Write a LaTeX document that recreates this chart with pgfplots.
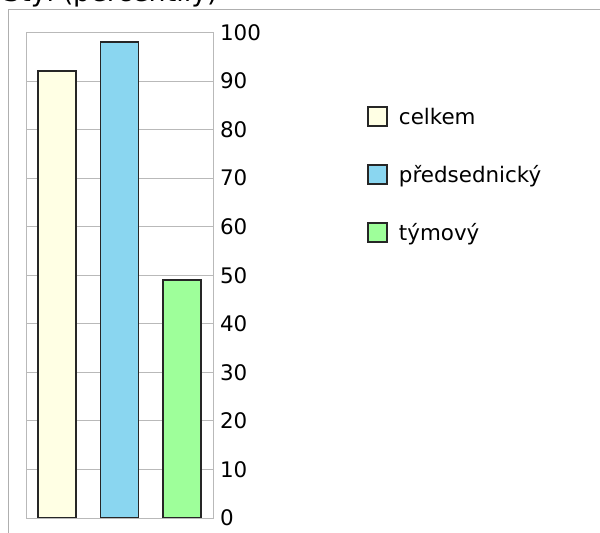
\documentclass[border=0pt]{standalone}
\usepackage{pgfplots}
\pgfplotsset{compat=1.18}
\usepackage{fontspec}
\setmainfont{DejaVu Sans}
\definecolor{cYel}{RGB}{255,255,228}
\definecolor{cBlu}{RGB}{138,214,240}
\definecolor{cGrn}{RGB}{158,255,154}
\definecolor{frameGray}{RGB}{175,175,175}
\definecolor{gridGray}{RGB}{185,185,185}
\begin{document}
\begin{tikzpicture}[x=1bp,y=1bp]
\draw[frameGray, line width=1bp] (8,0) -- (8,523) -- (600,523);
\node[anchor=base west, font=\fontsize{27}{31}\selectfont, inner sep=0pt] at (3,531) {Styl (percentily)};
\begin{axis}[
  at={(26bp,15bp)}, anchor=south west,
  scale only axis, width=187bp, height=485.5bp,
  xmin=-0.5, xmax=2.5, ymin=0, ymax=100,
  ytick={0,10,...,100}, xtick=\empty,
  yticklabel pos=right,
  major tick length=0pt,
  ymajorgrids, grid style={gridGray, line width=0.8bp},
  axis line style={gridGray, line width=0.8bp},
  ticklabel style={font=\fontsize{21.5}{25}\selectfont},
  yticklabel style={xshift=3.5bp},
  /pgf/number format/assume math mode=true,
  ybar, bar width=38bp, bar shift=0pt,
  legend image code/.code={\draw[#1, line width=1.7bp] (0bp,-9.5bp) rectangle (19bp,9.5bp);},
  legend cell align=left,
  legend style={at={(1.824,0.848)}, anchor=north west, draw=none, fill=none,
    inner sep=0pt, row sep=37bp, column sep=0bp,
    font=\fontsize{21.5}{25}\selectfont,
    nodes={inner sep=0pt}},
  legend style={/tikz/every odd column/.append style={column sep=11bp}},
]
\addplot[fill=cYel, draw=black!85, line width=1.7bp] coordinates {(0,92)};
\addlegendentry{celkem}
\addplot[fill=cBlu, draw=black!85, line width=1.7bp] coordinates {(1,98)};
\addlegendentry{předsednický}
\addplot[fill=cGrn, draw=black!85, line width=1.7bp] coordinates {(2,49)};
\addlegendentry{týmový}
\end{axis}
\pgfresetboundingbox
\useasboundingbox (0,0) rectangle (600,533);
\end{tikzpicture}
\end{document}
